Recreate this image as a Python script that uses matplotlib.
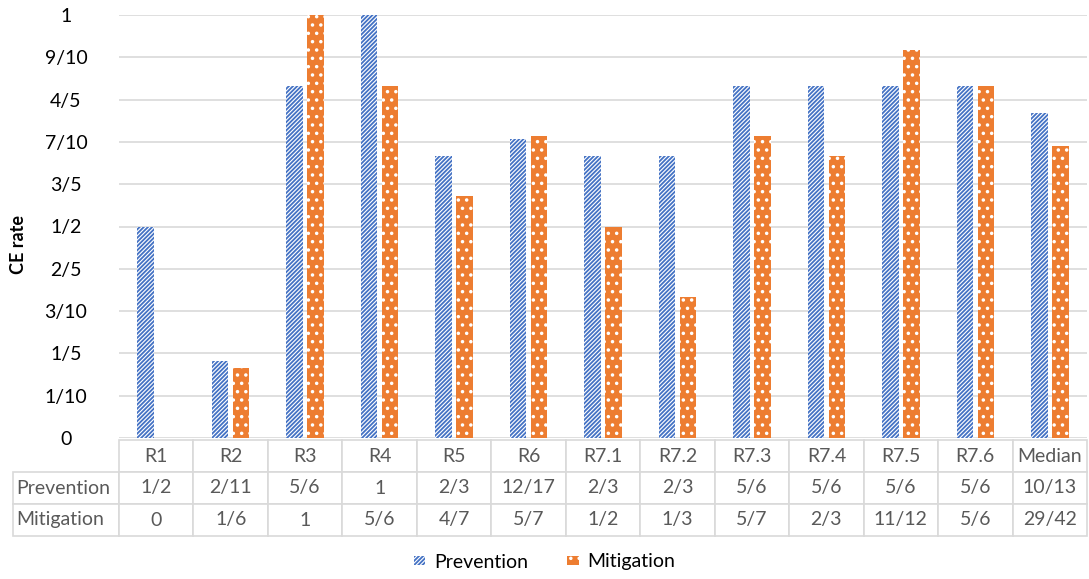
import matplotlib
matplotlib.use("Agg")
import matplotlib.pyplot as plt
import numpy as np
from matplotlib.patches import Patch

plt.rcParams["font.family"] = ["Lato", "DejaVu Sans"]
plt.rcParams["hatch.linewidth"] = 1.3

cats = ["R1", "R2", "R3", "R4", "R5", "R6", "R7.1", "R7.2", "R7.3", "R7.4", "R7.5", "R7.6", "Median"]
prev_lbl = ["1/2", "2/11", "5/6", "1", "2/3", "12/17", "2/3", "2/3", "5/6", "5/6", "5/6", "5/6", "10/13"]
miti_lbl = ["0", "1/6", "1", "5/6", "4/7", "5/7", "1/2", "1/3", "5/7", "2/3", "11/12", "5/6", "29/42"]
prevention = [1/2, 2/11, 5/6, 1, 2/3, 12/17, 2/3, 2/3, 5/6, 5/6, 5/6, 5/6, 10/13]
mitigation = [0, 1/6, 1, 5/6, 4/7, 5/7, 1/2, 1/3, 5/7, 2/3, 11/12, 5/6, 29/42]
yticks = [0, 0.1, 0.2, 0.3, 0.4, 0.5, 0.6, 0.7, 0.8, 0.9, 1.0]
ylabels = ["0", "1/10", "1/5", "3/10", "2/5", "1/2", "3/5", "7/10", "4/5", "9/10", "1"]

blue = "#4472C4"
orange = "#ED7D31"
grey = "#D9D9D9"
txt = "#595959"

W, H = 1089, 579
L, R, B, T = 119, 1087, 438, 15
fig = plt.figure(figsize=(W / 100, H / 100), dpi=100)
ax = fig.add_axes([L / W, 1 - B / H, (R - L) / W, (B - T) / H])

x = np.arange(len(cats))
w = 0.222
ax.bar(x - 0.141, prevention, w, facecolor="white", edgecolor=blue, linewidth=0, hatch="////////")
ax.bar(x + 0.141, mitigation, w, facecolor=orange, edgecolor="white", linewidth=0, hatch="..")

ax.set_xlim(-0.5, len(cats) - 0.5)
ax.set_ylim(0, 1)
ax.set_yticks(yticks)
ax.set_yticklabels(ylabels, fontsize=14, ha="center")
ax.tick_params(axis="y", length=0, pad=(L - 66) / 1.389)
ax.set_xticks([])
ax.grid(axis="y", color=grey, linewidth=1.2)
ax.set_axisbelow(True)
for s in ax.spines.values():
    s.set_visible(False)
fig.text(19 / W, 1 - 245 / H, "CE rate", rotation=90, ha="center", va="center",
         fontsize=13, fontweight="bold")

# data table under the axes
rows = [[""] + cats, ["Prevention"] + prev_lbl, ["Mitigation"] + miti_lbl]
aw = R - L
lw = (L - 13) / aw
cw = 1 / len(cats)
th = (536 - 440) / (B - T)
table = ax.table(cellText=rows, colWidths=[lw] + [cw] * len(cats),
                 cellLoc="center", bbox=[-lw, -(536 - B) / (B - T), 1 + lw, th])
table.auto_set_font_size(False)
for (r, c), cell in table.get_celld().items():
    cell.set_edgecolor(grey)
    cell.set_linewidth(1.2)
    cell.get_text().set_color(txt)
    cell.get_text().set_fontsize(14)
    if c == 0:
        cell.get_text().set_ha("left")
        cell._loc = "left"
        cell.PAD = 0.03
    if r == 0 and c == 0:
        cell.set_edgecolor("white")
        cell.set_linewidth(0)

handles = [Patch(facecolor="white", edgecolor=blue, linewidth=0, hatch="////////", label="Prevention"),
           Patch(facecolor=orange, edgecolor="white", linewidth=0, hatch="..", label="Mitigation")]
fig.legend(handles=handles, loc="center", bbox_to_anchor=(0.5, 1 - 562 / H), ncol=2,
           frameon=False, fontsize=14, handlelength=0.6, handleheight=0.4,
           columnspacing=2.0, handletextpad=0.45)

fig.savefig("out.png", dpi=100)
